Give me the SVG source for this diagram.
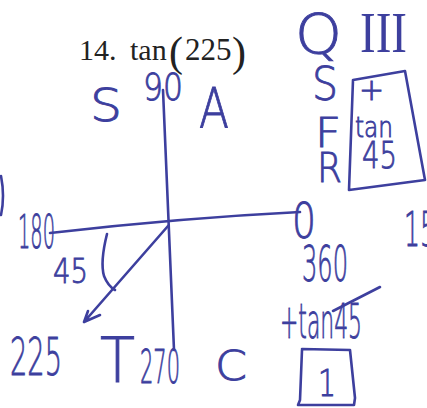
<svg xmlns="http://www.w3.org/2000/svg" width="427" height="408" viewBox="0 0 427 408">
<style>
.ink{fill:#3d3f9e;stroke:#3d3f9e;stroke-width:0.9;font-family:"DejaVu Sans","Liberation Sans",sans-serif;font-weight:200}
.ln{fill:none;stroke:#3d3f9e;stroke-width:2.6;stroke-linecap:round;stroke-linejoin:round}
.pr{fill:#222;font-family:"Liberation Serif","Times New Roman",serif}
</style>
<rect width="427" height="408" fill="#fff"/>
<g id="title">
<text class="pr" x="79" y="60" font-size="30">14.</text>
<text class="pr" x="130" y="60" font-size="30">tan</text>
<text class="pr" x="169" y="66" font-size="42">(</text>
<text class="pr" x="185" y="60" font-size="31">225</text>
<text class="pr" x="232" y="66" font-size="42">)</text>
</g>
<g id="connectors">
<path class="ln" d="M163,90 Q168,220 174,350"/>
<path class="ln" d="M50,233 Q180,218 300,212"/>
<path class="ln" d="M168,226 L84,322 M84,322 L88,311 M84,322 L100,315"/>
<path class="ln" d="M107,234 Q100,262 104,276 Q108,286 115,290"/>
</g>
<g id="quadrant-S"><text class="ink" x="90" y="121" font-size="44" textLength="32" lengthAdjust="spacingAndGlyphs">S</text></g>
<g id="label-90"><text class="ink" x="143" y="100" font-size="38" textLength="40" lengthAdjust="spacingAndGlyphs">90</text></g>
<g id="quadrant-A"><text class="ink" x="199" y="127" font-size="56" textLength="30" lengthAdjust="spacingAndGlyphs">A</text></g>
<g id="label-180"><text class="ink" x="18" y="248" font-size="46" textLength="37" lengthAdjust="spacingAndGlyphs">180</text></g>
<g id="label-0"><text class="ink" x="292" y="238" font-size="50" textLength="24" lengthAdjust="spacingAndGlyphs">0</text></g>
<g id="label-360"><text class="ink" x="302" y="281" font-size="50" textLength="46" lengthAdjust="spacingAndGlyphs">360</text></g>
<g id="label-45"><text class="ink" x="53" y="283" font-size="34" textLength="35" lengthAdjust="spacingAndGlyphs">45</text></g>
<g id="label-225"><text class="ink" x="10" y="375" font-size="52" textLength="52" lengthAdjust="spacingAndGlyphs">225</text></g>
<g id="quadrant-T"><text class="ink" x="100" y="382" font-size="62" textLength="35" lengthAdjust="spacingAndGlyphs">T</text></g>
<g id="label-270"><text class="ink" x="140" y="383" font-size="46" textLength="40" lengthAdjust="spacingAndGlyphs">270</text></g>
<g id="quadrant-C"><text class="ink" x="215" y="380" font-size="40" textLength="32" lengthAdjust="spacingAndGlyphs">C</text></g>
<g id="result">
<text class="ink" x="280" y="338" font-size="48" textLength="82" lengthAdjust="spacingAndGlyphs">+tan45</text>
<path class="ln" d="M333,311 L380,287"/>
</g>
<g id="answer-box">
<path class="ln" d="M302,350 L300,400 L298,405 L354,405 L355,398 L350,350 L302,349"/>
<text class="ink" x="318" y="396" font-size="38" textLength="18" lengthAdjust="spacingAndGlyphs">1</text>
</g>
<g id="QSFR">
<text class="ink" x="295" y="53" font-size="56" textLength="47" lengthAdjust="spacingAndGlyphs">Q</text>
<text class="ink" x="312" y="100" font-size="46" textLength="26" lengthAdjust="spacingAndGlyphs">S</text>
<text class="ink" x="315" y="147" font-size="40" textLength="26" lengthAdjust="spacingAndGlyphs">F</text>
<text class="ink" x="317" y="182" font-size="40" textLength="25" lengthAdjust="spacingAndGlyphs">R</text>
</g>
<g id="quadrant-III"><text x="360" y="52" font-size="56" textLength="47" lengthAdjust="spacingAndGlyphs" style="fill:#3d3f9e;font-family:'Liberation Serif',serif">III</text></g>
<g id="ref-box">
<path class="ln" d="M353,80 L405,71 L425,180 L349,190 L353,80"/>
<text class="ink" x="359" y="100" font-size="30">+</text>
<text class="ink" x="355" y="137" font-size="29" textLength="38" lengthAdjust="spacingAndGlyphs">tan</text>
<text class="ink" x="362" y="168" font-size="38" textLength="35" lengthAdjust="spacingAndGlyphs">45</text>
</g>
<g id="edges">
<path class="ln" d="M1,176 Q5,196 1,215"/>
<text class="ink" x="404" y="246" font-size="48" textLength="32" lengthAdjust="spacingAndGlyphs">15</text>
</g>
</svg>
